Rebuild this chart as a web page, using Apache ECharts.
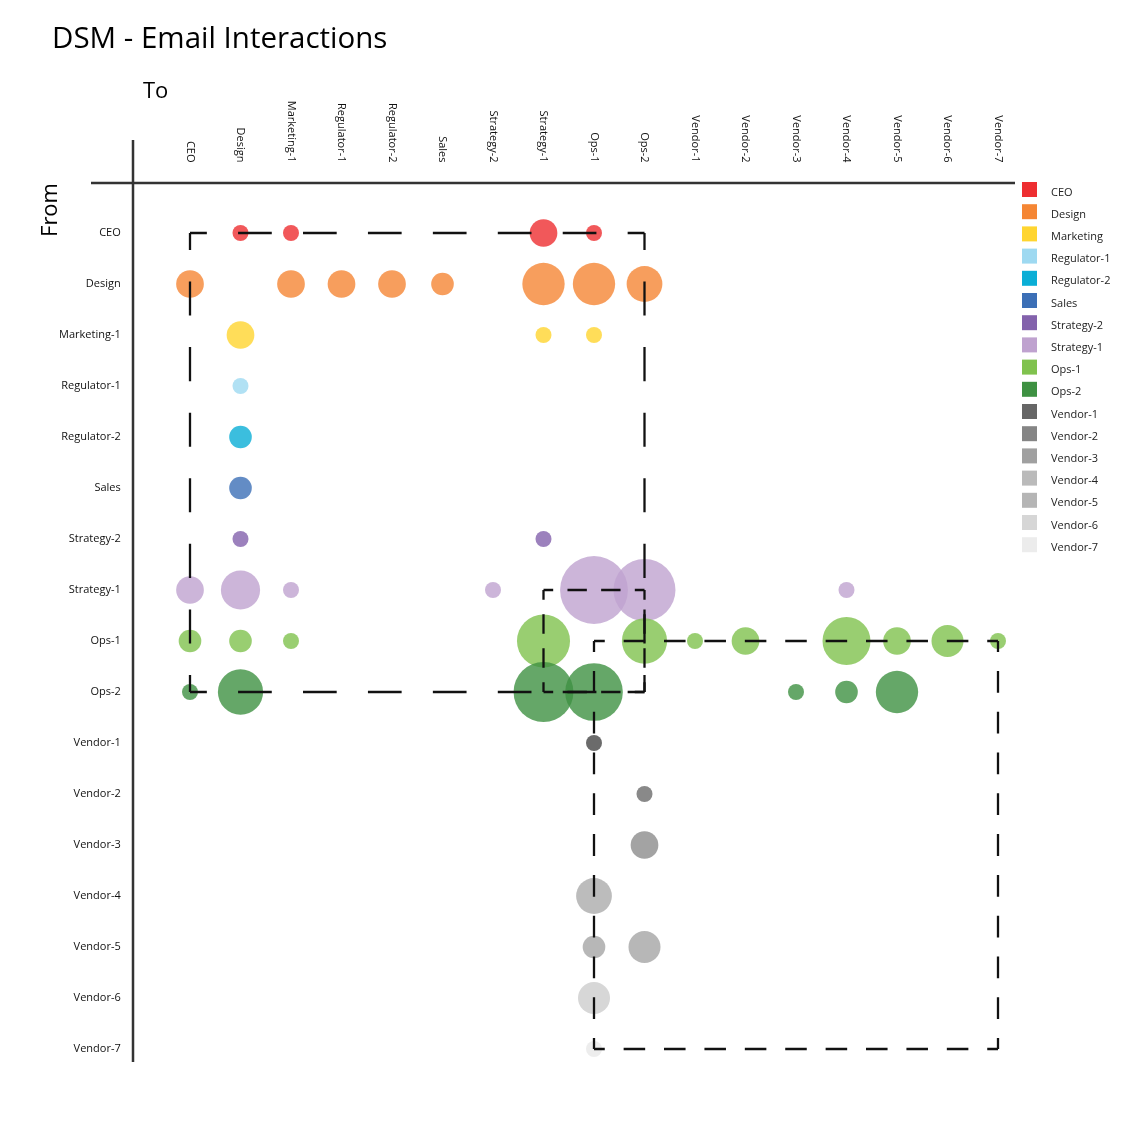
<!DOCTYPE html>
<html>
<head>
<meta charset="utf-8">
<style>
  html, body { margin: 0; padding: 0; background: #fff; }
  #chart { width: 1125px; height: 1125px; }
</style>
<script src="https://cdn.jsdelivr.net/npm/echarts@6/dist/echarts.min.js"></script>
</head>
<body>
<div id="chart"></div>
<script>
// ---- DATA ----
const categories = ['CEO','Design','Marketing-1','Regulator-1','Regulator-2','Sales','Strategy-2','Strategy-1','Ops-1','Ops-2','Vendor-1','Vendor-2','Vendor-3','Vendor-4','Vendor-5','Vendor-6','Vendor-7'];
const legendNames = ['CEO','Design','Marketing','Regulator-1','Regulator-2','Sales','Strategy-2','Strategy-1','Ops-1','Ops-2','Vendor-1','Vendor-2','Vendor-3','Vendor-4','Vendor-5','Vendor-6','Vendor-7'];

// interactions sent by each "From" row: [to, weight]
const fromCEO        = [['Design',1],['Marketing-1',1],['Strategy-1',3],['Ops-1',1]];
const fromDesign     = [['CEO',3],['Marketing-1',3],['Regulator-1',3],['Regulator-2',3],['Sales',2],['Strategy-1',7],['Ops-1',7],['Ops-2',5]];
const fromMarketing1 = [['Design',3],['Strategy-1',1],['Ops-1',1]];
const fromRegulator1 = [['Design',1]];
const fromRegulator2 = [['Design',2]];
const fromSales      = [['Design',2]];
const fromStrategy2  = [['Design',1],['Strategy-1',1]];
const fromStrategy1  = [['CEO',3],['Design',6],['Marketing-1',1],['Strategy-2',1],['Ops-1',18],['Ops-2',15],['Vendor-4',1]];
const fromOps1       = [['CEO',2],['Design',2],['Marketing-1',1],['Strategy-1',11],['Ops-2',8],['Vendor-1',1],['Vendor-2',3],['Vendor-4',9],['Vendor-5',3],['Vendor-6',4],['Vendor-7',1]];
const fromOps2       = [['CEO',1],['Design',8],['Strategy-1',14],['Ops-1',13],['Vendor-3',1],['Vendor-4',2],['Vendor-5',7]];
const fromVendor1    = [['Ops-1',1]];
const fromVendor2    = [['Ops-2',1]];
const fromVendor3    = [['Ops-2',3]];
const fromVendor4    = [['Ops-1',5]];
const fromVendor5    = [['Ops-1',2],['Ops-2',4]];
const fromVendor6    = [['Ops-1',4]];
const fromVendor7    = [['Ops-1',1]];

const rows = [fromCEO, fromDesign, fromMarketing1, fromRegulator1, fromRegulator2, fromSales, fromStrategy2, fromStrategy1, fromOps1, fromOps2, fromVendor1, fromVendor2, fromVendor3, fromVendor4, fromVendor5, fromVendor6, fromVendor7];

// clusters (first and last member, square blocks on the diagonal)
const blocks = [['CEO','Ops-2'], ['Strategy-1','Ops-2'], ['Ops-1','Vendor-7']];

// ---- STYLE ----
const colors = ['#EE2E31','#F58634','#FFD530','#9ED9F1','#0AAED6','#3C6FB6','#8362AC','#BFA2CF','#80C24E','#3E9142','#666666','#858585','#A0A0A0','#BABABA','#B5B5B5','#D6D6D6','#ECECEC'];
const opacities = [0.8,0.8,0.8,0.8,0.8,0.8,0.8,0.8,0.8,0.8,0.97,0.97,0.97,0.97,0.97,0.97,0.97];
const blockDash = [[34, 31.5], [19, 14], [21.7, 19]];
const FONT = 'Open Sans';

const chart = echarts.init(document.getElementById('chart'), null, {renderer: 'canvas'});

const scatterSeries = rows.map((r, i) => ({
  type: 'scatter',
  name: legendNames[i],
  data: r.map(([to, v]) => [to, categories[i], v]),
  symbolSize: d => 16 * Math.sqrt(d[2]),
  itemStyle: { color: colors[i], opacity: opacities[i] },
  emphasis: { disabled: true },
  z: 2
}));

const sideSeries = [];
const sideMeta = [];
blocks.forEach((blk, bi) => {
  const [a, b] = blk;
  const sides = [[[a, a], [b, a]], [[a, a], [a, b]], [[b, a], [b, b]], [[a, b], [b, b]]];
  sides.forEach(s => {
    sideSeries.push({
      type: 'line',
      data: s,
      symbol: 'none',
      silent: true,
      z: 5,
      lineStyle: { color: '#111', width: 2.3, type: blockDash[bi], dashOffset: blockDash[bi][0] / 2 },
      emphasis: { disabled: true }
    });
    sideMeta.push({ pts: s, bi });
  });
});

const option = {
  animation: false,
  backgroundColor: '#fff',
  title: {
    text: 'DSM - Email Interactions',
    left: 47, top: 20,
    textStyle: { fontFamily: FONT, fontSize: 29.5, fontWeight: 'normal', color: '#000' }
  },
  legend: {
    orient: 'vertical',
    left: 1022, top: 181,
    itemWidth: 15, itemHeight: 15, itemGap: 5.2,
    icon: 'rect',
    padding: 0,
    data: legendNames,
    itemStyle: { opacity: 1 },
    selectedMode: false,
    formatter: name => '{t|' + name + '}',
    textStyle: {
      fontFamily: FONT, fontSize: 11, color: '#222', padding: [0, 0, 0, 9],
      rich: { t: { fontFamily: FONT, fontSize: 11, color: '#222', padding: [6, 0, 0, 0], lineHeight: 9 } }
    }
  },
  grid: { left: 164.75, width: 858.5, top: 207.5, height: 867, containLabel: false },
  xAxis: {
    type: 'category', data: categories, position: 'top',
    axisLine: { show: false }, axisTick: { show: false }, splitLine: { show: false },
    axisLabel: { rotate: 90, margin: 45, interval: 0, fontFamily: FONT, fontSize: 11, color: '#111' }
  },
  yAxis: {
    type: 'category', data: categories, inverse: true,
    axisLine: { show: false }, axisTick: { show: false }, splitLine: { show: false },
    axisLabel: { margin: 44, interval: 0, fontFamily: FONT, fontSize: 11, color: '#111' }
  },
  graphic: [
    { type: 'line', shape: { x1: 91, y1: 183, x2: 1015, y2: 183 }, style: { stroke: '#333', lineWidth: 2.5 }, silent: true },
    { type: 'line', shape: { x1: 133, y1: 140, x2: 133, y2: 1062 }, style: { stroke: '#333', lineWidth: 2.5 }, silent: true },
    { type: 'text', left: 143, top: 81, style: { text: 'To', fontFamily: FONT, fontSize: 22, fill: '#000' }, silent: true },
    { type: 'text', x: 51, y: 210, rotation: Math.PI / 2, style: { text: 'From', fontFamily: FONT, fontSize: 22, fill: '#000', align: 'center', verticalAlign: 'middle' }, silent: true }
  ],
  series: scatterSeries.concat(sideSeries)
};

chart.setOption(option);

// fit dash patterns so each side starts and ends with a half dash at the corners
const idx = n => categories.indexOf(n);
const updates = scatterSeries.map(() => ({}));
sideMeta.forEach(m => {
  const p0 = chart.convertToPixel({ gridIndex: 0 }, [idx(m.pts[0][0]), idx(m.pts[0][1])]);
  const p1 = chart.convertToPixel({ gridIndex: 0 }, [idx(m.pts[1][0]), idx(m.pts[1][1])]);
  const L = Math.hypot(p1[0] - p0[0], p1[1] - p0[1]);
  const [d, g] = blockDash[m.bi];
  const period = d + g;
  const n = Math.max(1, Math.round(L / period));
  const k = (L / n) / period;
  updates.push({ lineStyle: { type: [d * k, g * k], dashOffset: d * k / 2 } });
});
chart.setOption({ series: updates });
</script>
</body>
</html>
